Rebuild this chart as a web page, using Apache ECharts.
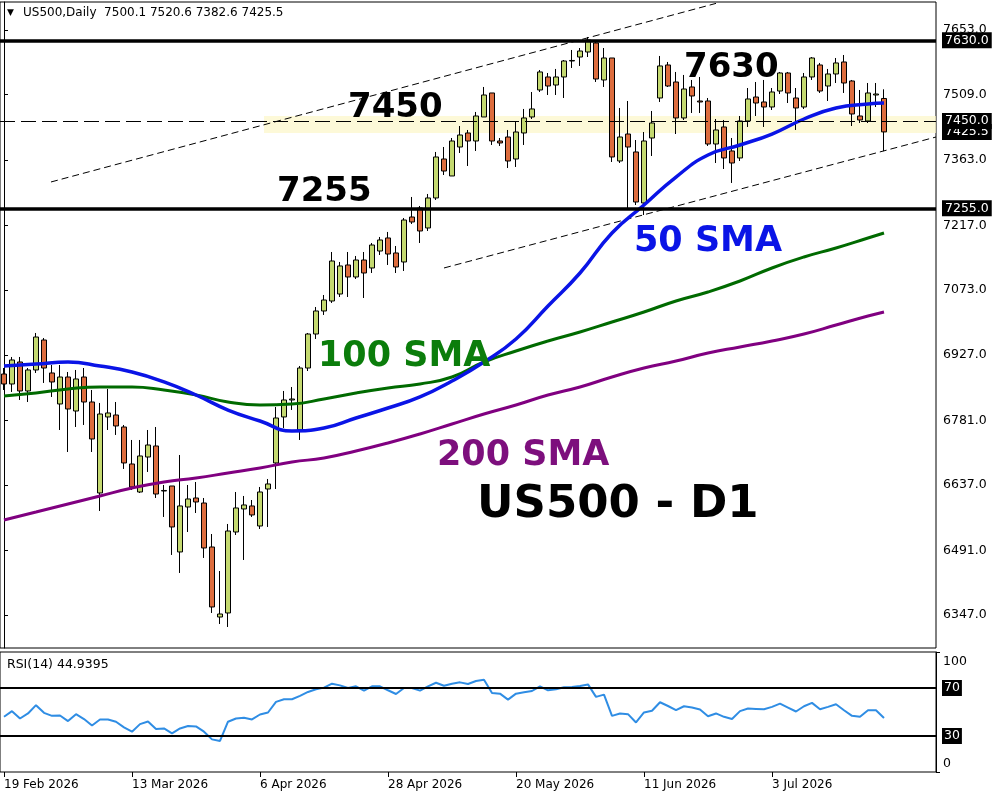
<!DOCTYPE html>
<html><head><meta charset="utf-8">
<script src="https://cdn.jsdelivr.net/npm/echarts@6/dist/echarts.min.js"></script>
<style>html,body{margin:0;padding:0;background:#fff}#c{width:1000px;height:800px}</style>
</head><body><div id="c"></div>
<script>
// ---- categories (trading days) ----
const dates = [
'19 Feb 2026','20 Feb 2026','23 Feb 2026','24 Feb 2026','25 Feb 2026','26 Feb 2026','27 Feb 2026',
'2 Mar 2026','3 Mar 2026','4 Mar 2026','5 Mar 2026','6 Mar 2026','9 Mar 2026','10 Mar 2026','11 Mar 2026','12 Mar 2026','13 Mar 2026',
'16 Mar 2026','17 Mar 2026','18 Mar 2026','19 Mar 2026','20 Mar 2026','23 Mar 2026','24 Mar 2026','25 Mar 2026','26 Mar 2026','27 Mar 2026','30 Mar 2026','31 Mar 2026',
'1 Apr 2026','2 Apr 2026','3 Apr 2026','6 Apr 2026','7 Apr 2026','8 Apr 2026','9 Apr 2026','10 Apr 2026','13 Apr 2026','14 Apr 2026','15 Apr 2026','16 Apr 2026','17 Apr 2026',
'20 Apr 2026','21 Apr 2026','22 Apr 2026','23 Apr 2026','24 Apr 2026','27 Apr 2026','28 Apr 2026','29 Apr 2026','30 Apr 2026',
'1 May 2026','4 May 2026','5 May 2026','6 May 2026','7 May 2026','8 May 2026','11 May 2026','12 May 2026','13 May 2026','14 May 2026','15 May 2026',
'18 May 2026','19 May 2026','20 May 2026','21 May 2026','22 May 2026','25 May 2026','26 May 2026','27 May 2026','28 May 2026','29 May 2026',
'1 Jun 2026','2 Jun 2026','3 Jun 2026','4 Jun 2026','5 Jun 2026','8 Jun 2026','9 Jun 2026','10 Jun 2026','11 Jun 2026','12 Jun 2026',
'15 Jun 2026','16 Jun 2026','17 Jun 2026','18 Jun 2026','19 Jun 2026','22 Jun 2026','23 Jun 2026','24 Jun 2026','25 Jun 2026','26 Jun 2026','29 Jun 2026','30 Jun 2026',
'1 Jul 2026','2 Jul 2026','3 Jul 2026','6 Jul 2026','7 Jul 2026','8 Jul 2026','9 Jul 2026','10 Jul 2026','13 Jul 2026','14 Jul 2026','15 Jul 2026','16 Jul 2026','17 Jul 2026',
'20 Jul 2026','21 Jul 2026','22 Jul 2026','23 Jul 2026'];
const futureDates = ['24 Jul 2026','27 Jul 2026','28 Jul 2026','29 Jul 2026','30 Jul 2026','31 Jul 2026'];

// ---- OHLC ----
const opens = [
6885.0,6862.7,6911.8,6847.1,6894.0,6960.9,6887.3,6818.1,6878.3,6802.4,
6878.3,6822.5,6619.4,6789.1,6793.5,6766.7,6684.1,6621.6,6699.7,6724.3,
6623.8,6635.0,6487.7,6588.1,6608.2,6597.0,6498.8,6342.5,6351.5,6532.3,
6583.7,6590.4,6545.7,6628.3,6686.4,6789.1,6827.0,6760.0,6898.4,6974.3,
7025.7,7048.0,7063.6,7128.4,7101.6,7139.5,7121.7,7159.6,7188.7,7155.2,
7135.1,7235.5,7255.6,7211.0,7278.0,7365.0,7327.1,7391.8,7423.1,7405.2,
7458.8,7512.4,7405.2,7414.1,7365.0,7423.1,7458.8,7519.1,7548.1,7530.2,
7548.1,7583.8,7592.7,7603.9,7624.0,7541.4,7590.5,7360.6,7420.8,7380.7,
7266.8,7411.9,7501.2,7574.9,7536.9,7456.6,7525.8,7494.5,7494.5,7398.5,
7436.5,7382.9,7367.3,7449.9,7503.4,7492.3,7481.1,7516.8,7557.0,7501.2,
7481.1,7548.1,7574.9,7528.0,7554.8,7581.6,7539.2,7461.0,7449.9,7507.9,
7500.1];
const closes = [
6862.7,6916.3,6847.1,6894.0,6967.6,6898.4,6867.2,6878.3,6806.9,6873.9,
6822.5,6739.9,6795.7,6798.0,6769.0,6686.4,6632.8,6702.0,6726.5,6617.1,
6625.0,6543.5,6590.4,6606.0,6599.3,6496.6,6364.9,6349.2,6534.5,6585.9,
6592.6,6570.3,6621.6,6639.5,6786.8,6827.0,6829.2,6898.4,6974.3,7025.7,
7050.2,7137.3,7126.2,7101.6,7139.5,7110.5,7173.0,7184.2,7152.9,7123.9,
7228.8,7224.4,7204.3,7278.0,7369.5,7338.2,7405.2,7418.6,7405.2,7461.0,
7507.9,7405.2,7400.8,7360.6,7425.3,7456.6,7476.7,7559.3,7528.0,7548.1,
7583.8,7585.0,7606.1,7630.7,7543.6,7590.5,7369.5,7414.1,7391.8,7269.0,
7405.2,7445.4,7572.7,7528.0,7456.6,7521.3,7505.7,7492.3,7398.5,7429.8,
7367.3,7356.1,7449.9,7499.0,7490.0,7481.1,7514.6,7557.0,7512.4,7478.9,
7548.1,7590.5,7516.8,7554.8,7579.4,7534.7,7465.5,7452.1,7512.4,7510.1,
7425.5];
const highs = [
6898.4,6923.0,6923.0,6898.4,6976.6,6965.4,6905.1,6905.1,6889.5,6894.0,
6898.4,6849.3,6820.3,6851.6,6822.5,6771.2,6737.7,6737.7,6760.0,6766.7,
6637.2,6635.0,6704.2,6637.2,6643.9,6608.2,6527.8,6445.2,6550.2,6621.6,
6612.7,6603.7,6632.8,6650.6,6811.4,6847.1,6856.0,6902.9,6976.6,7034.6,
7061.4,7157.4,7135.1,7157.4,7148.5,7157.4,7177.5,7190.9,7202.1,7170.8,
7233.3,7280.2,7260.1,7286.9,7380.7,7391.8,7411.9,7438.7,7429.8,7470.0,
7525.8,7512.4,7411.9,7429.8,7447.6,7476.7,7514.6,7563.7,7557.0,7566.0,
7586.0,7608.4,7612.8,7637.4,7626.2,7612.8,7590.5,7478.9,7494.5,7407.4,
7425.3,7472.2,7595.0,7581.6,7559.3,7552.6,7541.4,7548.1,7501.2,7454.3,
7452.1,7411.9,7461.0,7523.5,7536.9,7541.4,7523.5,7559.3,7559.3,7523.5,
7557.0,7592.7,7579.4,7566.0,7590.5,7597.2,7541.4,7519.1,7534.7,7534.7,
7520.6];
const lows = [
6849.3,6844.9,6827.0,6822.5,6887.3,6865.0,6833.7,6760.0,6710.9,6766.7,
6771.2,6710.9,6579.2,6760.0,6748.9,6673.0,6626.1,6619.4,6666.3,6608.2,
6565.8,6481.0,6440.8,6532.3,6574.7,6474.3,6351.5,6326.9,6320.2,6525.6,
6469.8,6565.8,6539.0,6543.5,6628.3,6764.5,6804.7,6737.7,6891.7,6963.2,
7016.8,7043.6,7056.9,7056.9,7097.1,7054.7,7110.5,7150.7,7128.4,7110.5,
7115.0,7219.9,7177.5,7204.3,7273.5,7329.3,7327.1,7378.4,7349.4,7382.9,
7458.8,7396.3,7394.1,7344.9,7347.2,7396.3,7454.3,7514.6,7507.9,7507.9,
7501.2,7568.2,7572.7,7592.7,7536.9,7525.8,7358.3,7356.1,7251.2,7262.3,
7240.0,7371.7,7492.3,7525.8,7420.8,7452.1,7467.7,7467.7,7394.1,7356.1,
7342.7,7311.5,7360.6,7436.5,7461.0,7436.5,7474.4,7510.1,7490.0,7429.8,
7476.7,7541.4,7512.4,7494.5,7534.7,7512.4,7438.7,7445.4,7445.4,7481.1,
7382.6];

// ---- RSI(14) ----
const rsi = [
46.0,50.7,44.6,48.8,55.7,49.3,46.8,47.1,42.4,48.2,
44.1,38.8,43.8,43.8,41.9,37.2,33.6,39.9,42.1,35.8,
36.3,32.2,36.3,38.3,38.0,33.6,27.2,25.9,41.9,44.6,
45.2,43.8,47.9,49.6,58.4,60.6,60.6,63.4,66.7,68.9,
70.3,73.6,72.2,70.0,71.4,67.8,71.4,71.4,68.1,65.0,
70.0,70.0,67.8,71.4,74.4,71.9,73.6,74.7,73.3,75.8,
76.9,65.9,65.3,60.3,65.3,66.4,67.5,71.4,68.1,68.9,
70.6,70.8,71.7,73.0,62.6,64.5,46.8,48.8,48.2,41.3,
49.6,51.0,58.1,55.0,51.5,54.8,53.7,52.1,46.5,48.8,
46.0,44.1,50.7,52.9,52.6,52.3,54.3,57.0,53.7,50.4,
54.8,57.6,52.3,54.3,56.5,51.5,46.8,46.0,51.5,51.5,
44.94];
const rsiLabel = '44.9395';

// ---- moving averages, read at these bar indices ----
const smaIdx = [0,4,8,12,16,20,24,28,32,36,40,44,48,52,56,60,64,68,72,76,80,84,88,92,96,100,104,108,110];
const sma50 = [6902.9,6907.3,6911.8,6902.9,6889.5,6867.2,6838.1,6804.6,6780.1,6757.8,6764.5,6786.8,6809.1,6833.7,6869.4,6911.8,6963.2,7036.8,7110.5,7199.8,7262.3,7324.8,7373.9,7396.3,7420.8,7454.3,7478.9,7487.8,7490.0];
const sma100 = [6835.9,6842.6,6851.5,6856.0,6856.0,6849.3,6838.1,6822.5,6815.8,6818.0,6829.2,6842.6,6853.8,6862.7,6878.3,6911.8,6936.4,6958.7,6978.8,7001.1,7023.4,7048.0,7068.1,7092.6,7121.7,7146.2,7166.3,7188.6,7199.8];
const sma200 = [6559.1,6576.9,6594.8,6612.7,6630.5,6643.9,6652.8,6664.0,6675.2,6688.6,6697.5,6713.1,6731.0,6751.1,6773.4,6795.7,6815.8,6838.1,6856.0,6878.3,6898.4,6914.0,6931.9,6945.3,6958.7,6974.3,6994.4,7014.5,7023.4];

// ---- tick labels & levels ----
const priceTicks = [7653,7509,7363,7217,7073,6927,6781,6637,6491,6347];
const keyLevels = [7630, 7255];
const midLevel = 7450;
const zoneLevels = [7423, 7461];
const rsiLevels = [70, 30];
const channelUpper = [[5.875, 7313.7],[89, 7712.4]];
const channelLower = [[55, 7121.7],[116.5, 7414.1]];

const allCats = dates.concat(futureDates);
const candleData = opens.map((o,i)=>[o, closes[i], lows[i], highs[i]]);
const pairs = arr => smaIdx.map((k,i)=>[k, arr[i]]);
const FONT = '"DejaVu Sans", sans-serif';
const boxLabel = {show:true, position:'end', distance:6, color:'#fff', backgroundColor:'#000',
  padding:[2,3,1,3], fontSize:12.5, fontFamily:FONT};
const lastClose = closes[closes.length-1];

const chart = echarts.init(document.getElementById('c'), null, {renderer:'canvas'});
chart.setOption({
  animation:false,
  backgroundColor:'#fff',
  grid:[
    {left:0, top:2, width:936, height:646, show:true, borderColor:'#000', borderWidth:1, backgroundColor:'transparent'},
    {left:0, top:652, width:936, height:120, show:true, borderColor:'#000', borderWidth:1, backgroundColor:'transparent'}
  ],
  xAxis:[
    {type:'category', gridIndex:0, data:allCats, boundaryGap:true, axisLine:{show:false}, axisTick:{show:false}, axisLabel:{show:false}, splitLine:{show:false}},
    {type:'value', gridIndex:0, min:-0.5, max:116.5, show:false},
    {type:'category', gridIndex:1, data:allCats, boundaryGap:true,
      axisLine:{show:false},
      axisTick:{show:true, alignWithLabel:true, length:5, lineStyle:{color:'#000'}, interval:(i)=>i%16===0 && i<=96},
      axisLabel:{show:true, interval:(i)=>i%16===0 && i<=96, align:'left', margin:7, color:'#000', fontSize:12, fontFamily:FONT},
      splitLine:{show:false}}
  ],
  yAxis:[
    {type:'value', gridIndex:0, position:'right', min:6273.3, max:7715.5,
      axisLine:{show:true, lineStyle:{color:'#000'}}, splitLine:{show:false},
      axisTick:{show:true, length:4, customValues:priceTicks, lineStyle:{color:'#000'}},
      axisLabel:{show:true, customValues:priceTicks, formatter:v=>Number(v).toFixed(1), margin:7, color:'#000', fontSize:12.5, fontFamily:FONT}},
    {type:'value', gridIndex:1, position:'right', min:0, max:100,
      axisLine:{show:true, lineStyle:{color:'#000'}}, splitLine:{show:false},
      axisTick:{show:true, length:4, customValues:[0,100], lineStyle:{color:'#000'}},
      axisLabel:{show:true, customValues:[0,100], margin:7, color:'#000', fontSize:12.5, fontFamily:FONT,
        formatter:v=> v>=100 ? '{t|100}' : '{b|0}',
        rich:{t:{padding:[20,0,0,0], fontSize:12.5, fontFamily:FONT, color:'#000'}, b:{padding:[0,0,16,0], fontSize:12.5, fontFamily:FONT, color:'#000'}}}}
  ],
  series:[
    {type:'line', name:'channelUpper', xAxisIndex:1, yAxisIndex:0, data:channelUpper, symbol:'none', clip:true, z:1,
      lineStyle:{color:'#000', width:1, type:[7,4]},
      markArea:{silent:true, itemStyle:{color:'rgba(252,247,200,0.7)'},
        data:[[{coord:[32.5, zoneLevels[1]]},{coord:[116.5, zoneLevels[0]]}]]}},
    {type:'line', name:'channelLower', xAxisIndex:1, yAxisIndex:0, data:channelLower, symbol:'none', clip:true, z:1,
      lineStyle:{color:'#000', width:1, type:[7,4]},
      markLine:{silent:true, symbol:'none', animation:false,
        data:[{yAxis:lastClose, lineStyle:{color:'rgba(0,0,0,0)', width:0}, label:Object.assign({}, boxLabel, {formatter:lastClose.toFixed(1)})}]}},
    {type:'candlestick', name:'US500', xAxisIndex:0, yAxisIndex:0, data:candleData, barWidth:6, z:2,
      itemStyle:{color:'#c4d970', color0:'#dd6d3e', borderColor:'#000', borderColor0:'#000', borderColorDoji:'#000', borderWidth:1},
      markLine:{silent:true, symbol:'none', animation:false,
        data:[
          {yAxis:midLevel, lineStyle:{color:'#000', width:1, type:[15,6]}, label:Object.assign({}, boxLabel, {formatter:midLevel.toFixed(1)})},
          {yAxis:keyLevels[0], lineStyle:{color:'#000', width:3.5, type:'solid'}, label:Object.assign({}, boxLabel, {formatter:keyLevels[0].toFixed(1)})},
          {yAxis:keyLevels[1], lineStyle:{color:'#000', width:3.5, type:'solid'}, label:Object.assign({}, boxLabel, {formatter:keyLevels[1].toFixed(1)})}
        ]}},
    {type:'line', name:'SMA200', xAxisIndex:0, yAxisIndex:0, data:pairs(sma200), smooth:true, symbol:'none', z:3,
      lineStyle:{color:'#800080', width:3}},
    {type:'line', name:'SMA100', xAxisIndex:0, yAxisIndex:0, data:pairs(sma100), smooth:true, symbol:'none', z:3,
      lineStyle:{color:'#006a00', width:3}},
    {type:'line', name:'SMA50', xAxisIndex:0, yAxisIndex:0, data:pairs(sma50), smooth:true, symbol:'none', z:4,
      lineStyle:{color:'#0a14e6', width:3.5}},
    {type:'line', name:'RSI', xAxisIndex:2, yAxisIndex:1, data:rsi, symbol:'none', z:3,
      lineStyle:{color:'#2f8de4', width:2},
      markLine:{silent:true, symbol:'none', animation:false,
        data:rsiLevels.map(v=>({yAxis:v, lineStyle:{color:'#000', width:2, type:'solid'},
          label:Object.assign({}, boxLabel, {formatter:String(v), padding:[2,2,1,2]})}))}}
  ],
  graphic:[
    {type:'text', x:7, y:13, z:100, style:{text:'▼', fill:'#000', font:'9px "DejaVu Sans"', verticalAlign:'middle'}},
    {type:'text', x:23, y:13, z:100, style:{text:'US500,Daily  '+[opens[110],highs[110],lows[110],closes[110]].map(v=>v.toFixed(1)).join(' '), fill:'#000', font:'12px "DejaVu Sans"', verticalAlign:'middle'}},
    {type:'text', x:684, y:68, z:100, style:{text:String(keyLevels[0]), fill:'#000', font:'bold 34px "DejaVu Sans"', verticalAlign:'middle'}},
    {type:'text', x:348, y:108, z:100, style:{text:String(midLevel), fill:'#000', font:'bold 34px "DejaVu Sans"', verticalAlign:'middle'}},
    {type:'text', x:277, y:192, z:100, style:{text:String(keyLevels[1]), fill:'#000', font:'bold 34px "DejaVu Sans"', verticalAlign:'middle'}},
    {type:'text', x:634, y:242, z:100, style:{text:'50 SMA', fill:'#0a14e6', font:'bold 35px "DejaVu Sans"', verticalAlign:'middle'}},
    {type:'text', x:318, y:357, z:100, style:{text:'100 SMA', fill:'#0b7d0b', font:'bold 35px "DejaVu Sans"', verticalAlign:'middle'}},
    {type:'text', x:437, y:456, z:100, style:{text:'200 SMA', fill:'#7d0f7d', font:'bold 35px "DejaVu Sans"', verticalAlign:'middle'}},
    {type:'text', x:477, y:505, z:100, style:{text:'US500 - D1', fill:'#000', font:'bold 45px "DejaVu Sans"', verticalAlign:'middle'}},
    {type:'text', x:7, y:665, z:100, style:{text:'RSI(14) '+rsiLabel, fill:'#000', font:'12.5px "DejaVu Sans"', verticalAlign:'middle'}}
  ]
});
</script>
</body></html>
